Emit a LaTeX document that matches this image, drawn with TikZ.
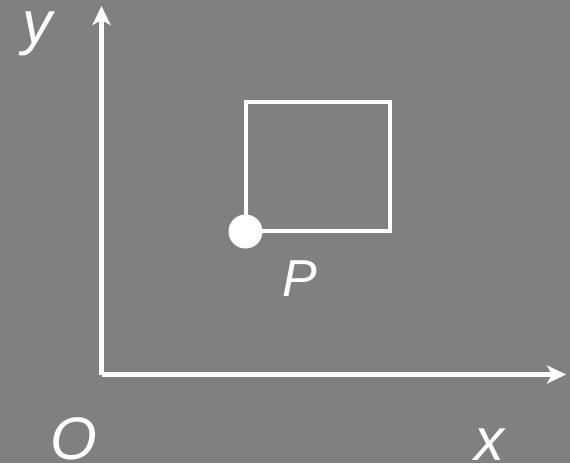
\documentclass[tikz,border=0pt]{standalone}
\usepackage{fontspec}
\setmainfont{Liberation Sans}
\usetikzlibrary{arrows.meta}
\usetikzlibrary{positioning}
\tikzset{
  axis/.style={line width=5pt,white,-{Stealth[length=19pt,width=18pt,inset=5pt]}},
  lbl/.style={text=white,inner sep=0pt,anchor=base,font=\fontsize{60}{60}\selectfont\itshape},
}
\begin{document}
\begin{tikzpicture}[x=1pt,y=-1pt]
	\fill[gray] (0,0) rectangle (570,463);
	\useasboundingbox (0,0) rectangle (570,463);
	\path
	(101.5,374.5) coordinate (o)
	(101.5,6) coordinate (ytip)
	(566,374.5) coordinate (xtip)
	(245.5,231) coordinate (c1)
	(390,102) coordinate (c2)
	(245.5,231.5) node(pt) [circle,fill=white,minimum size=34pt,inner sep=0pt] {}
	(37,43) node(ly) [lbl] {y}
	(74,459) node(lo) [lbl] {O}
	(489,460) node(lx) [lbl] {x}
	(300,296) node(lp) [lbl,font=\fontsize{52}{52}\selectfont\itshape] {P};
	\draw[white,line width=4pt] (c1) rectangle (c2);
	\draw[axis] (o) -- (ytip);
	\draw[axis] (o) -- (xtip);
\end{tikzpicture}
\end{document}
